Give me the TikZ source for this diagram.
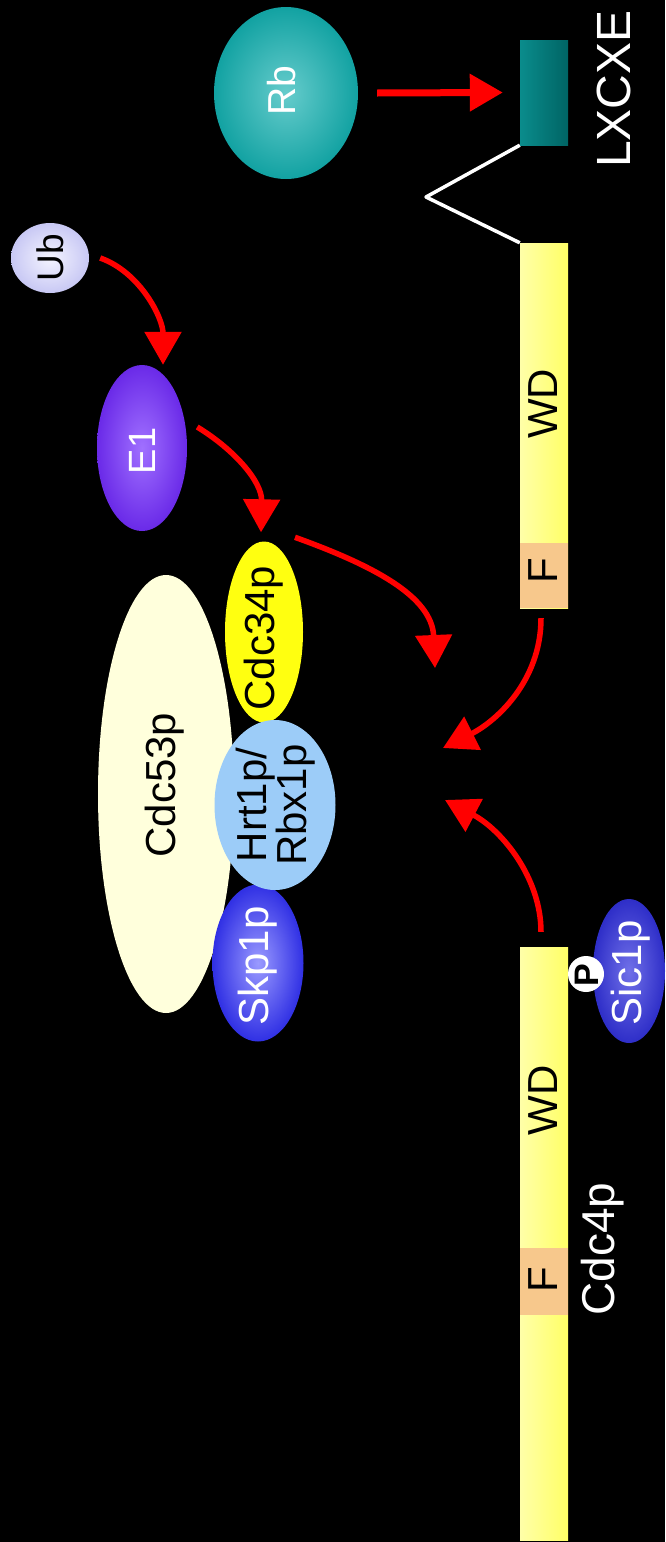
\documentclass[tikz,border=0pt]{standalone}
\usepackage{fontspec}
\setmainfont{Liberation Sans}
\usetikzlibrary{arrows.meta,shapes.geometric}
\definecolor{tealA}{HTML}{66CCCC}
\definecolor{tealB}{HTML}{12A2A2}
\definecolor{tealL}{HTML}{0A8C8C}
\definecolor{tealR}{HTML}{006464}
\definecolor{barL}{HTML}{FFFFA8}
\definecolor{barR}{HTML}{FFFF66}
\definecolor{fPeach}{HTML}{F7C88C}
\definecolor{ubIn}{HTML}{F4F4FF}
\definecolor{ubOut}{HTML}{C8C8F4}
\definecolor{eIn}{HTML}{A070FF}
\definecolor{eOut}{HTML}{6A2AE8}
\definecolor{c34}{HTML}{FFFF10}
\definecolor{c53}{HTML}{FFFFDC}
\definecolor{hrtC}{HTML}{9CCCF8}
\definecolor{skIn}{HTML}{9A9AFF}
\definecolor{skOut}{HTML}{3030E4}
\definecolor{sicIn}{HTML}{7070E8}
\definecolor{sicOut}{HTML}{2E2EC8}
\tikzset{
  blob/.style={ellipse, draw=none, inner sep=0pt},
  lab/.style={inner sep=0pt, font=\fontsize{42}{40}\selectfont},
  redarrow/.style={draw=red, line width=5.5pt, -{Triangle[length=33pt,width=36pt]}},
  barbox/.style={rectangle, draw=none, inner sep=0pt, minimum width=48pt, left color=barL, right color=barR},
  fbox/.style={rectangle, draw=none, inner sep=0pt, minimum width=48pt, fill=fPeach}
}
\begin{document}
\begin{tikzpicture}[x=1pt,y=-1pt]
\fill[black] (0,0) rectangle (665,1542);
\path[use as bounding box] (0,0) rectangle (665,1542);

% Rb and LXCXE domain
\node[blob, minimum width=144pt, minimum height=172pt, inner color=tealA, outer color=tealB] (rb) at (286,93) {};
\node[lab, text=white, font=\fontsize{39}{40}\selectfont] (rbt) at (282,91) {\rotatebox{90}{Rb}};
\node[rectangle, inner sep=0pt, minimum width=48pt, minimum height=105pt, left color=tealL, right color=tealR] (lx) at (544,92.5) {};
\node[lab, text=white, font=\fontsize{48}{48}\selectfont] (lxt) at (614,89) {\rotatebox{90}{LXCXE}};

% upper Cdc4p bar
\node[barbox, minimum height=365pt] (bar1) at (544,425.5) {};
\node[fbox, minimum height=65pt] (f1) at (544,575.5) {};
\node[lab] (wd1) at (543,404) {\rotatebox{90}{WD}};
\node[lab] (ft1) at (543,571) {\rotatebox{90}{F}};
\coordinate (hinge) at (426,197);
\draw[white, line width=3.5pt, line join=round] (lx.south west) -- (hinge) -- (bar1.north west);

% Ub and E1
\node[blob, minimum width=78pt, minimum height=70pt, inner color=ubIn, outer color=ubOut] (ub) at (50,258) {};
\node[lab, font=\fontsize{37}{40}\selectfont] (ubt) at (50,258) {\rotatebox{90}{Ub}};
\node[blob, minimum width=90pt, minimum height=166pt, inner color=eIn, outer color=eOut] (e1) at (142,448) {};
\node[lab, text=white, font=\fontsize{38}{40}\selectfont] (e1t) at (142,451) {\rotatebox{90}{E1}};

% SCF complex
\node[blob, minimum width=136pt, minimum height=438pt, fill=c53] (cdc53) at (166,794) {};
\node[lab] (cdc53t) at (165,785) {\rotatebox{90}{Cdc53p}};
\node[blob, minimum width=78pt, minimum height=181pt, fill=c34] (cdc34) at (264,632) {};
\node[lab] (cdc34t) at (264,638) {\rotatebox{90}{Cdc34p}};
\node[blob, minimum width=91pt, minimum height=157pt, inner color=skIn, outer color=skOut] (skp) at (258,963) {};
\node[lab, text=white] (skpt) at (258,966) {\rotatebox{90}{Skp1p}};
\node[blob, minimum width=121pt, minimum height=170pt, fill=hrtC] (hrt) at (275,805) {};
\node[lab] (hrtt) at (277,805) {\rotatebox{90}{\begin{tabular}{@{}c@{}}Hrt1p/\\[-2pt]Rbx1p\end{tabular}}};

% lower Cdc4p bar
\node[barbox, minimum height=593pt] (bar2) at (544,1243.5) {};
\node[fbox, minimum height=67pt] (f2) at (544,1281.5) {};
\node[lab] (wd2) at (543,1100) {\rotatebox{90}{WD}};
\node[lab] (ft2) at (543,1280) {\rotatebox{90}{F}};
\node[lab, text=white, font=\fontsize{46}{46}\selectfont] (cdc4) at (603,1249) {\rotatebox{90}{Cdc4p}};

% Sic1p and phosphate
\node[blob, minimum width=72pt, minimum height=144pt, inner color=sicIn, outer color=sicOut] (sic) at (629,971) {};
\node[lab, text=white] (sict) at (631,973) {\rotatebox{90}{Sic1p}};
\node[circle, fill=white, draw=none, minimum size=36pt, inner sep=0pt] (pp) at (586,974) {};
\node[lab, font=\bfseries\fontsize{34}{34}\selectfont] (ppt) at (587,975) {\rotatebox{90}{P}};

% arrows
\coordinate (t1) at (435,668);
\coordinate (t2) at (443,748);
\coordinate (t3) at (445,800);
\draw[redarrow, line width=7pt] ([xshift=19pt]rb.east) -- ([xshift=-17pt]lx.west);
\draw[redarrow] ([xshift=11pt]ub.east) .. controls (140,272) and (163,318) .. ([xshift=21pt]e1.north);
\draw[redarrow] ([xshift=10pt,yshift=21pt]e1.east) .. controls (235,450) and (262,482) .. ([xshift=-3pt,yshift=9pt]cdc34.north);
\draw[redarrow] ([xshift=31pt,yshift=4pt]cdc34.north) .. controls (372,565) and (432,596) .. (t1);
\draw[redarrow] ([xshift=-3pt,yshift=-10pt]bar1.south) .. controls (541,682) and (495,722) .. (t2);
\draw[redarrow] ([xshift=-3pt,yshift=15pt]bar2.north) .. controls (541,878) and (502,830) .. (t3);
\end{tikzpicture}
\end{document}
